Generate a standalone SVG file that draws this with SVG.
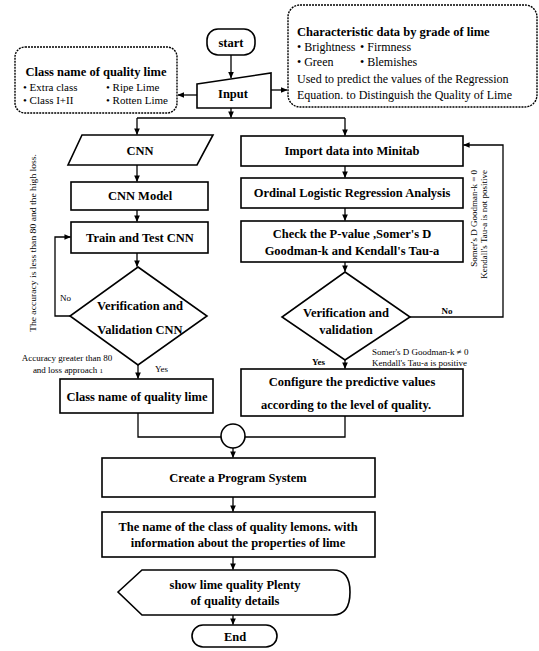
<svg xmlns="http://www.w3.org/2000/svg" width="539" height="651" viewBox="0 0 539 651">
  <style>
    .box { fill: #fff; stroke: #000; stroke-width: 1.6; }
    .dash { fill: #fff; stroke: #000; stroke-width: 1.4; stroke-dasharray: 2 1; }
    .ln { fill: none; stroke: #000; stroke-width: 1.3; }
    .b { font-family: "Liberation Serif", "Times New Roman", serif; font-weight: bold; font-size: 12.5px; fill: #000; text-anchor: middle; }
    .bl { font-family: "Liberation Serif", "Times New Roman", serif; font-weight: bold; font-size: 12.5px; fill: #000; text-anchor: start; }
    .r { font-family: "Liberation Serif", "Times New Roman", serif; font-size: 12px; fill: #000; }
    .rs { font-family: "Liberation Serif", "Times New Roman", serif; font-size: 11px; fill: #000; }
    .s { font-family: "Liberation Serif", "Times New Roman", serif; font-size: 9px; fill: #000; }
  </style>
  <defs>
    <marker id="arr" viewBox="0 0 8 8" refX="7.5" refY="4" markerWidth="5" markerHeight="5" orient="auto">
      <path d="M0,0.5 L8,4 L0,7.5 Z" fill="#000"/>
    </marker>
  </defs>
  <rect width="539" height="651" fill="#fff"/>

  <!-- connectors -->
  <g id="connectors" class="ln">
    <line x1="231" y1="55" x2="231" y2="78" marker-end="url(#arr)"/>
    <line x1="197" y1="95" x2="178" y2="95" marker-end="url(#arr)"/>
    <line x1="271" y1="90" x2="287" y2="90" marker-end="url(#arr)"/>
    <line x1="231" y1="108" x2="231" y2="117.5" marker-end="url(#arr)"/>
    <polyline points="137,118 345,118"/>
    <line x1="137" y1="118" x2="137" y2="134.5" marker-end="url(#arr)"/>
    <line x1="345" y1="118" x2="345" y2="135.5" marker-end="url(#arr)"/>
    <line x1="137" y1="165" x2="137" y2="181.5" marker-end="url(#arr)"/>
    <line x1="137" y1="210" x2="137" y2="221.5" marker-end="url(#arr)"/>
    <line x1="137" y1="253" x2="137" y2="266.5" marker-end="url(#arr)"/>
    <polyline points="70,316 55,316 55,237 70.5,237" marker-end="url(#arr)"/>
    <line x1="138" y1="365" x2="138" y2="378.5" marker-end="url(#arr)"/>
    <polyline points="138,413 138,437 221,437"/>
    <line x1="345" y1="166" x2="345" y2="177.5" marker-end="url(#arr)"/>
    <line x1="345" y1="208" x2="345" y2="220.5" marker-end="url(#arr)"/>
    <line x1="345" y1="262" x2="345" y2="271.5" marker-end="url(#arr)"/>
    <polyline points="410,317 503,317 503,145 463.5,145" marker-end="url(#arr)"/>
    <line x1="345" y1="360" x2="345" y2="368.5" marker-end="url(#arr)"/>
    <polyline points="345,416 345,437 245,437"/>
    <line x1="233" y1="448" x2="233" y2="457.5" marker-end="url(#arr)"/>
    <line x1="233" y1="497" x2="233" y2="511.5" marker-end="url(#arr)"/>
    <line x1="233" y1="557" x2="233" y2="569.5" marker-end="url(#arr)"/>
    <line x1="233" y1="615" x2="233" y2="624.5" marker-end="url(#arr)"/>
  </g>

  <!-- edge labels -->
  <g id="labels">
    <text class="s" transform="translate(36,243) rotate(-90)" text-anchor="middle" textLength="178" lengthAdjust="spacingAndGlyphs">The accuracy is less than 80 and the high loss.</text>
    <text class="s" x="60" y="301" font-size="10">No</text>
    <text class="s" x="67" y="361" text-anchor="middle" font-size="9.5">Accuracy greater than 80</text>
    <text class="s" x="68" y="373" text-anchor="middle" font-size="9.5">and  loss approach <tspan font-size="7">1</tspan></text>
    <text class="s" x="155" y="372" font-size="9.5">Yes</text>
    <text class="s" x="447" y="314" text-anchor="middle" font-weight="bold" font-size="10">No</text>
    <text class="s" x="312" y="365" font-weight="bold" font-size="9.5">Yes</text>
    <text class="s" x="372" y="355" font-size="9.5">Somer's D Goodman-k ≠ 0</text>
    <text class="s" x="372" y="366" font-size="9.5">Kendall's Tau-a is positive</text>
    <text class="s" transform="translate(477,170) rotate(-90)" text-anchor="end" font-size="9.5">Somer's D Goodman-k = 0</text>
    <text class="s" transform="translate(487,170) rotate(-90)" text-anchor="end" font-size="9.5">Kendall's Tau-a is not positive</text>
  </g>

  <g id="start">
    <rect class="box" x="207" y="29" width="48" height="26" rx="11"/>
    <text class="b" x="231" y="47">start</text>
  </g>

  <g id="input">
    <polygon class="box" points="197,84 271,73 271,108 197,108"/>
    <text class="b" x="233" y="98">Input</text>
  </g>

  <g id="class-list">
    <rect class="dash" x="15" y="47" width="162" height="66" rx="10"/>
    <text class="b" x="96" y="76">Class name of quality lime</text>
    <text class="rs" x="23" y="91">• Extra class</text>
    <text class="rs" x="106" y="91">• Ripe Lime</text>
    <text class="rs" x="23" y="104">• Class I+II</text>
    <text class="rs" x="106" y="104">• Rotten Lime</text>
  </g>

  <g id="characteristics">
    <rect class="dash" x="288" y="5" width="249" height="102" rx="12"/>
    <text class="bl" x="297" y="36">Characteristic data by grade of lime</text>
    <text class="r" x="297" y="51">• Brightness</text>
    <text class="r" x="360" y="51">• Firmness</text>
    <text class="r" x="297" y="66">• Green</text>
    <text class="r" x="360" y="66">• Blemishes</text>
    <text class="r" x="297" y="83">Used to predict the values of the Regression</text>
    <text class="r" x="297" y="99">Equation. to Distinguish the Quality of Lime</text>
  </g>

  <g id="cnn">
    <polygon class="box" points="82,135 213,135 197,165 68,165"/>
    <text class="b" x="140" y="155">CNN</text>
  </g>

  <g id="cnn-model">
    <rect class="box" x="71" y="182" width="137" height="28"/>
    <text class="b" x="140" y="200">CNN Model</text>
  </g>

  <g id="train">
    <rect class="box" x="71" y="222" width="137" height="31"/>
    <text class="b" x="140" y="242">Train and Test CNN</text>
  </g>

  <g id="verify-cnn">
    <polygon class="box" points="138,267 207,316 138,365 70,316"/>
    <text class="b" x="140" y="310">Verification and</text>
    <text class="b" x="140" y="334">Validation CNN</text>
  </g>

  <g id="class-name">
    <rect class="box" x="60" y="379" width="153" height="34"/>
    <text class="b" x="137" y="401" font-size="13">Class name of quality lime</text>
  </g>

  <g id="import">
    <rect class="box" x="241" y="136" width="222" height="30"/>
    <text class="b" x="352" y="155">Import data into Minitab</text>
  </g>

  <g id="ordinal">
    <rect class="box" x="241" y="178" width="222" height="30"/>
    <text class="b" x="352" y="197">Ordinal Logistic Regression Analysis</text>
  </g>

  <g id="check">
    <rect class="box" x="241" y="221" width="222" height="41" stroke-width="2"/>
    <text class="b" x="352" y="238">Check the P-value ,Somer's D</text>
    <text class="b" x="352" y="255">Goodman-k and Kendall's Tau-a</text>
  </g>

  <g id="verify">
    <polygon class="box" points="345,272 410,317 345,360 282,317"/>
    <text class="b" x="346" y="317">Verification and</text>
    <text class="b" x="346" y="334">validation</text>
  </g>

  <g id="configure">
    <rect class="box" x="241" y="369" width="222" height="47"/>
    <text class="b" x="352" y="386">Configure the predictive values</text>
    <text class="b" x="346" y="409">according to the level of quality.</text>
  </g>

  <g id="merge">
    <circle class="box" cx="233" cy="436" r="12"/>
  </g>

  <g id="create">
    <rect class="box" x="102" y="458" width="273" height="39"/>
    <text class="b" x="238" y="482">Create a Program System</text>
  </g>

  <g id="name-info">
    <rect class="box" x="102" y="512" width="273" height="45"/>
    <text class="b" x="238" y="531">The name of the class of quality lemons. with</text>
    <text class="b" x="238" y="547">information about the properties of lime</text>
  </g>

  <g id="display">
    <path class="box" d="M118,592 L142,570 L333,570 Q350,570 350,592 Q350,615 333,615 L142,615 Z"/>
    <text class="b" x="235" y="589">show lime quality Plenty</text>
    <text class="b" x="235" y="605">of quality details</text>
  </g>

  <g id="end">
    <rect class="box" x="192" y="625" width="85" height="22" rx="11"/>
    <text class="b" x="235" y="641">End</text>
  </g>
</svg>
